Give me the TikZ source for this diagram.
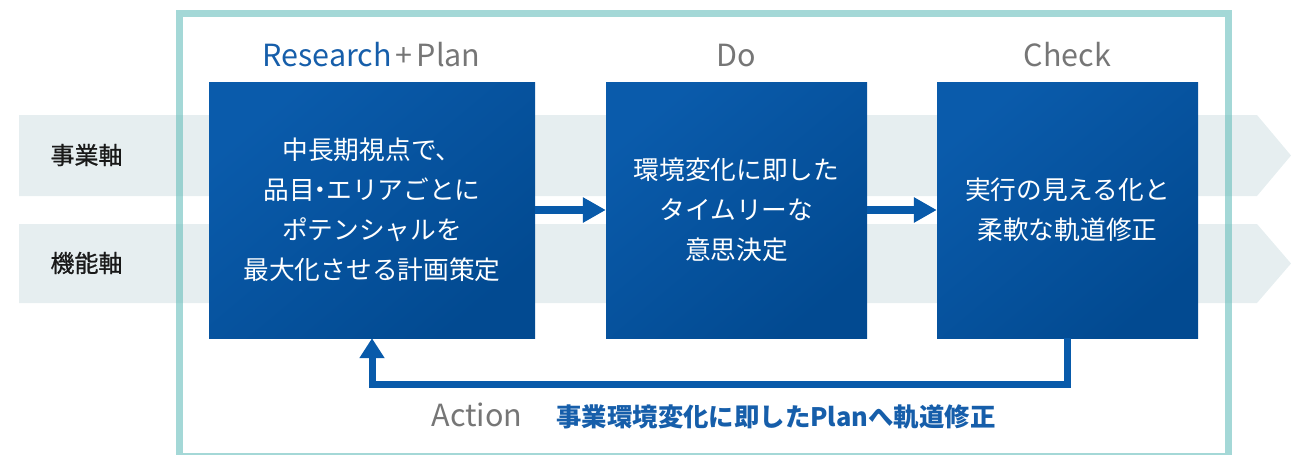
\documentclass[tikz,border=0pt]{standalone}
\usepackage{fontspec}
\setmainfont{Noto Sans CJK JP}
\newfontfamily\labelfont[FakeBold=0.8]{Noto Sans CJK JP}
\usetikzlibrary{arrows.meta}
\definecolor{bandfill}{RGB}{230,238,240}
\definecolor{frameteal}{RGB}{104,190,188}
\definecolor{boxA}{RGB}{10,91,171}
\definecolor{boxB}{RGB}{2,74,145}
\definecolor{arrowblue}{RGB}{8,90,170}
\definecolor{titlegray}{RGB}{118,118,118}
\definecolor{titleblue}{RGB}{22,94,170}
\definecolor{labelblack}{RGB}{25,25,25}
\begin{document}
\begin{tikzpicture}[x=1pt,y=-1pt,
  band/.style={fill=bandfill,draw=none},
  frame/.style={draw=frameteal,draw opacity=0.6,line width=7pt},
  pbox/.style={top color=boxA,bottom color=boxB,shading angle=40,
    minimum height=256pt,inner sep=0pt,align=center,text=white,
    font=\fontsize{25.7}{40}\selectfont},
  title/.style={anchor=base,text=titlegray,font=\fontsize{30.5}{32}\selectfont},
  axislabel/.style={text=labelblack,font=\labelfont\fontsize{24}{26}\selectfont},
  flow/.style={draw=arrowblue,line width=8pt,-{Triangle[length=23pt,width=24pt]}},
  fb/.style={draw=arrowblue,line width=7pt,-{Triangle[length=20pt,width=24pt]}},
]
\useasboundingbox (0,0) rectangle (1291,455);
% axis bands
\fill[band] (19,115) -- (1257,115) -- (1291,155.5) -- (1257,196) -- (19,196) -- cycle;
\fill[band] (19,224) -- (1257,224) -- (1291,263.5) -- (1257,303) -- (19,303) -- cycle;
\node[axislabel] (biz) at (86.5,155) {事業軸};
\node[axislabel] (func) at (86.5,263) {機能軸};
% frame
\draw[frame] (179,13.5) rectangle (1228,456);
% boxes
\node[pbox,minimum width=326pt] (rp) at (372,210)
  {中長期視点で、\\品目\kern-7pt・\kern-7pt エリアごとに\\ポテンシャルを\\最大化させる計画策定};
\node[pbox,minimum width=261pt] (do) at (736.5,210)
  {環境変化に即した\\タイムリーな\\意思決定};
\node[pbox,minimum width=261pt] (ch) at (1067.5,210)
  {実行の見える化と\\柔軟な軌道修正};
% titles
\node[title] (trp) at (371.5,66) {\textcolor{titleblue}{Research}\kern4pt+\kern4pt Plan};
\node[title] (tdo) at (736.5,66) {Do};
\node[title] (tch) at (1067.5,66) {Check};
% flow arrows
\draw[flow] (rp.east) -- (do.west);
\draw[flow] (do.east) -- (ch.west);
% feedback
\coordinate (fbc) at (1067.5,384);
\draw[fb] (ch.south) -- (fbc) -| (rp.south);
\node[title,anchor=base west] (act) at (428,426) {Action};
\node[anchor=base west,text=titleblue,font=\bfseries\fontsize{25.4}{28}\selectfont] (actt) at (553,426) {事業環境変化に即したPlanへ軌道修正};
\end{tikzpicture}
\end{document}
